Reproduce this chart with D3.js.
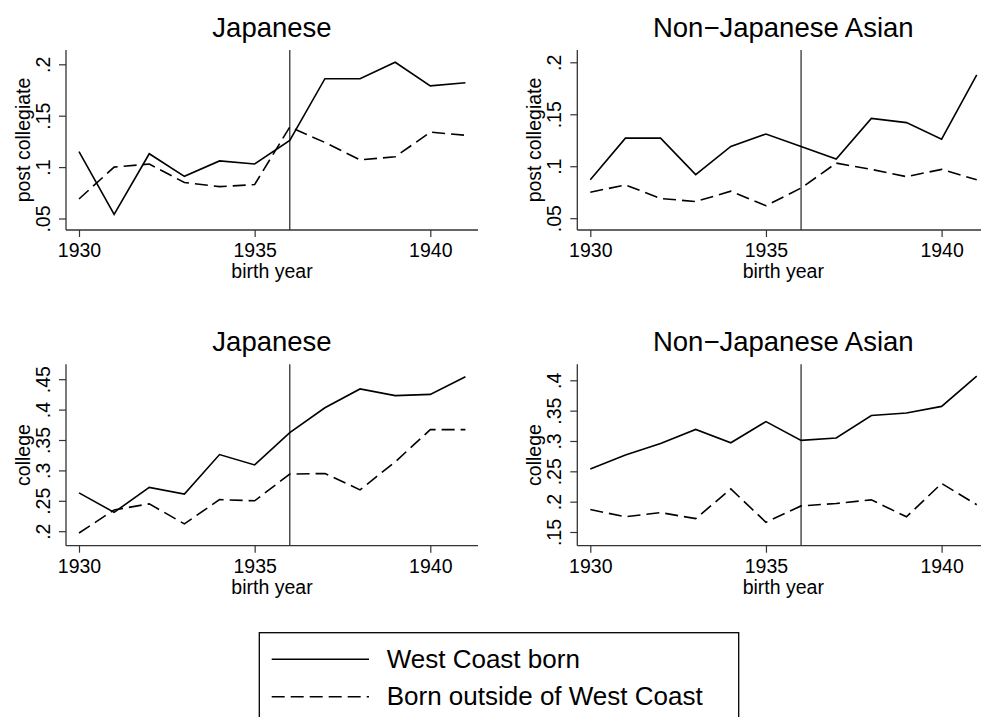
<!DOCTYPE html>
<html>
<head>
<meta charset="utf-8">
<script src="https://cdn.jsdelivr.net/npm/d3@7"></script>
<style>
  html, body { margin: 0; padding: 0; background: #fff; }
  svg { display: block; font-family: "Liberation Sans", Arial, Helvetica, sans-serif; }
</style>
</head>
<body>
<svg id="chart" width="981" height="717"></svg>
<script>
// ---------- data ----------
const years = [1930, 1931, 1932, 1933, 1934, 1935, 1936, 1937, 1938, 1939, 1940, 1941];
const xTicks = [1930, 1935, 1940];
const cutoffYear = 1936;

const japPostWestCoast = [0.115, 0.054, 0.113, 0.091, 0.106, 0.103, 0.126, 0.186, 0.186, 0.202, 0.179, 0.182];
const japPostOutside   = [0.069, 0.100, 0.103, 0.085, 0.081, 0.083, 0.139, 0.124, 0.107, 0.110, 0.134, 0.131];

const nonPostWestCoast = [0.087, 0.127, 0.127, 0.092, 0.119, 0.131, 0.119, 0.107, 0.146, 0.142, 0.126, 0.188];
const nonPostOutside   = [0.075, 0.082, 0.069, 0.066, 0.076, 0.062, 0.079, 0.103, 0.097, 0.090, 0.097, 0.087];

const japColWestCoast = [0.263, 0.231, 0.272, 0.261, 0.326, 0.309, 0.362, 0.403, 0.434, 0.423, 0.425, 0.454];
const japColOutside   = [0.197, 0.235, 0.245, 0.212, 0.252, 0.250, 0.294, 0.295, 0.268, 0.314, 0.367, 0.367];

const nonColWestCoast = [0.254, 0.277, 0.296, 0.319, 0.297, 0.332, 0.301, 0.305, 0.342, 0.346, 0.357, 0.407];
const nonColOutside   = [0.187, 0.175, 0.182, 0.172, 0.221, 0.166, 0.193, 0.197, 0.203, 0.175, 0.230, 0.195];

const postTicks = [0.05, 0.10, 0.15, 0.20];
const postTickLabels = [".05", ".1", ".15", ".2"];
const japColTicks = [0.20, 0.25, 0.30, 0.35, 0.40, 0.45];
const japColTickLabels = [".2", ".25", ".3", ".35", ".4", ".45"];
const nonColTicks = [0.15, 0.20, 0.25, 0.30, 0.35, 0.40];
const nonColTickLabels = [".15", ".2", ".25", ".3", ".35", ".4"];

const seriesNames = ["West Coast born", "Born outside of West Coast"];
const xTitle = "birth year";

// ---------- layout ----------
const panels = [
  { title: "Japanese", yTitle: "post collegiate", wc: japPostWestCoast, out: japPostOutside,
    ticks: postTicks, labels: postTickLabels,
    ax: 66, top: 50, bottom: 230, right: 478, yLoPx: 218.5, yHiPx: 64.3 },
  { title: "Non\u2212Japanese Asian", yTitle: "post collegiate", wc: nonPostWestCoast, out: nonPostOutside,
    ticks: postTicks, labels: postTickLabels,
    ax: 577.3, top: 50, bottom: 230, right: 981, yLoPx: 218.2, yHiPx: 62.3 },
  { title: "Japanese", yTitle: "college", wc: japColWestCoast, out: japColOutside,
    ticks: japColTicks, labels: japColTickLabels,
    ax: 66, top: 364.3, bottom: 545.7, right: 478, yLoPx: 531.2, yHiPx: 379.2 },
  { title: "Non\u2212Japanese Asian", yTitle: "college", wc: nonColWestCoast, out: nonColOutside,
    ticks: nonColTicks, labels: nonColTickLabels,
    ax: 577.3, top: 364.3, bottom: 545.7, right: 981, yLoPx: 532.0, yHiPx: 380.3 }
];

const svg = d3.select("#chart");
const axisColor = "#333";
const dashPattern = "13,6";

panels.forEach(p => {
  const g = svg.append("g");
  const x = d3.scaleLinear()
    .domain([xTicks[0], xTicks[xTicks.length - 1]])
    .range([p.ax + 13, p.ax + 364.3]);
  const y = d3.scaleLinear()
    .domain([p.ticks[0], p.ticks[p.ticks.length - 1]])
    .range([p.yLoPx, p.yHiPx]);
  const cx = p.ax + 206;

  // title
  g.append("text").attr("x", cx).attr("y", p.top - 13)
    .attr("text-anchor", "middle").attr("font-size", 27.5).attr("fill", "#000")
    .text(p.title);

  // x axis
  const xAxis = d3.axisBottom(x).tickValues(xTicks).tickFormat(d3.format("d"))
    .tickSize(7).tickSizeOuter(0).tickPadding(6);
  const gx = g.append("g").attr("transform", `translate(0,${p.bottom})`).call(xAxis);
  gx.select(".domain").remove();
  gx.selectAll(".tick line").attr("stroke", axisColor).attr("stroke-width", 1.2);
  gx.selectAll(".tick text").attr("font-size", 19.5).attr("fill", "#000")
    .attr("font-family", "Liberation Sans, Arial, sans-serif")
    .attr("dy", null).attr("y", 27);
  g.append("line").attr("x1", p.ax).attr("x2", p.right)
    .attr("y1", p.bottom).attr("y2", p.bottom)
    .attr("stroke", axisColor).attr("stroke-width", 1.3);

  // x title
  g.append("text").attr("x", cx).attr("y", p.bottom + 48.3)
    .attr("text-anchor", "middle").attr("font-size", 19.5).attr("fill", "#000")
    .text(xTitle);

  // y axis
  const yAxis = d3.axisLeft(y).tickValues(p.ticks)
    .tickFormat((d, i) => p.labels[i]).tickSize(7).tickSizeOuter(0);
  const gy = g.append("g").attr("transform", `translate(${p.ax},0)`).call(yAxis);
  gy.select(".domain").remove();
  gy.selectAll(".tick line").attr("stroke", axisColor).attr("stroke-width", 1.2);
  gy.selectAll(".tick text").attr("font-size", 19.5).attr("fill", "#000")
    .attr("font-family", "Liberation Sans, Arial, sans-serif")
    .attr("x", null).attr("dy", null)
    .attr("text-anchor", "middle")
    .attr("transform", "translate(-16,0) rotate(-90)");
  g.append("line").attr("x1", p.ax).attr("x2", p.ax)
    .attr("y1", p.top).attr("y2", p.bottom)
    .attr("stroke", axisColor).attr("stroke-width", 1.3);

  // y title
  const cy = (p.top + p.bottom) / 2;
  g.append("text").attr("transform", `translate(${p.ax - 36},${cy}) rotate(-90)`)
    .attr("text-anchor", "middle").attr("font-size", 19.5).attr("fill", "#000")
    .text(p.yTitle);

  // cutoff line
  g.append("line").attr("x1", x(cutoffYear)).attr("x2", x(cutoffYear))
    .attr("y1", p.top).attr("y2", p.bottom)
    .attr("stroke", axisColor).attr("stroke-width", 1.3);

  const line = d3.line().x((d, i) => x(years[i])).y(d => y(d));
  g.append("path").datum(p.out).attr("d", line)
    .attr("fill", "none").attr("stroke", "#000").attr("stroke-width", 1.6)
    .attr("stroke-dasharray", dashPattern);
  g.append("path").datum(p.wc).attr("d", line)
    .attr("fill", "none").attr("stroke", "#000").attr("stroke-width", 1.6);
});

// ---------- legend ----------
const lg = svg.append("g");
lg.append("rect").attr("x", 259.3).attr("y", 632.7).attr("width", 479.4).attr("height", 120)
  .attr("fill", "none").attr("stroke", "#000").attr("stroke-width", 1.3);
const legendRows = [659.3, 696.7];
seriesNames.forEach((name, i) => {
  lg.append("line").attr("x1", 271.7).attr("x2", 369)
    .attr("y1", legendRows[i]).attr("y2", legendRows[i])
    .attr("stroke", "#000").attr("stroke-width", 1.6)
    .attr("stroke-dasharray", i === 1 ? dashPattern : null);
  lg.append("text").attr("x", 386.7).attr("y", legendRows[i] + 8.5)
    .attr("font-size", 26).attr("fill", "#000").text(name);
});
</script>
</body>
</html>
